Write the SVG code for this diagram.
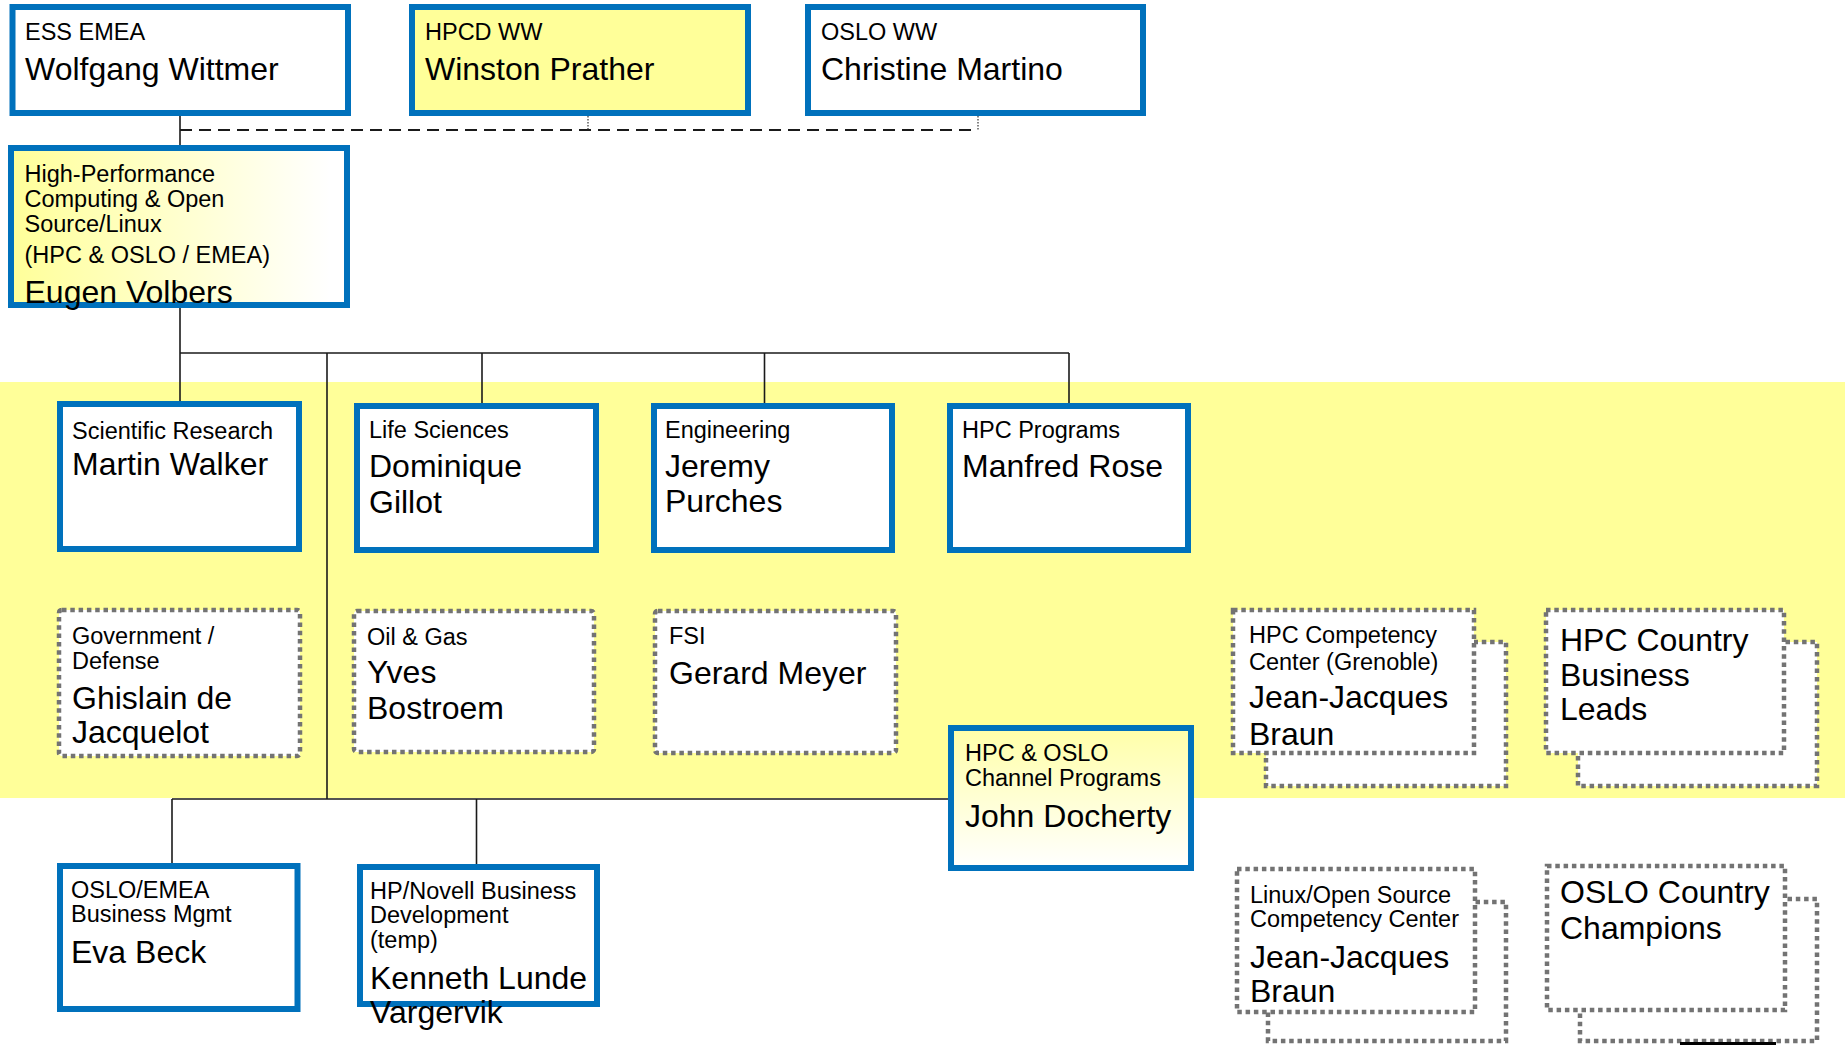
<svg xmlns="http://www.w3.org/2000/svg" width="1845" height="1045" viewBox="0 0 1845 1045">
<defs>
<linearGradient id="gH" x1="0" y1="0" x2="1" y2="0"><stop offset="0" stop-color="#FFFF99"/><stop offset="0.95" stop-color="#FFFFFF"/></linearGradient>
<linearGradient id="gV" x1="0" y1="0" x2="0" y2="1"><stop offset="0" stop-color="#FFFFA8"/><stop offset="1" stop-color="#FFFFFF"/></linearGradient>
<style>
.b{fill:#fff;stroke:#0071BC;stroke-width:6}
.d{fill:#fff;stroke:#737373;stroke-width:4.5;stroke-dasharray:4.5 3.8}
text{font-family:"Liberation Sans",Arial,sans-serif;font-size:23.5px;fill:#000}
.n{font-size:32px}
.c{stroke:#1a1a1a;stroke-width:1.6;fill:none}
.dash{stroke:#1a1a1a;stroke-width:1.8;fill:none;stroke-dasharray:12 7}
.dot{stroke:#333;stroke-width:1.2;fill:none;stroke-dasharray:1.5 1.5}
</style>
</defs>
<rect x="0" y="382" width="1845" height="416" fill="#FFFF99"/>
<g id="connectors">
<line class="c" x1="180" y1="116" x2="180" y2="145"/>
<line class="dash" x1="180" y1="130" x2="978" y2="130"/>
<line class="dot" x1="588" y1="116" x2="588" y2="130"/>
<line class="dot" x1="978" y1="116" x2="978" y2="130"/>
<line class="c" x1="180" y1="308" x2="180" y2="353" stroke-width="2.2"/>
<line class="c" x1="180" y1="353" x2="180" y2="401"/>
<line class="c" x1="180" y1="353" x2="1069" y2="353"/>
<line class="c" x1="482" y1="353" x2="482" y2="403"/>
<line class="c" x1="764.5" y1="353" x2="764.5" y2="403"/>
<line class="c" x1="1069" y1="353" x2="1069" y2="403"/>
<line class="c" x1="327" y1="353" x2="327" y2="799"/>
<line class="c" x1="172" y1="799" x2="948" y2="799"/>
<line class="c" x1="172" y1="799" x2="172" y2="863"/>
<line class="c" x1="476.5" y1="799" x2="476.5" y2="864"/>
</g>
<g id="ess-emea">
<rect class="b" x="12.5" y="7" width="335.5" height="106"/>
<text x="25" y="40">ESS EMEA</text>
<text class="n" x="25" y="80">Wolfgang Wittmer</text>
</g>
<g id="hpcd-ww">
<rect class="b" x="412" y="7" width="336" height="106" style="fill:#FFFF99"/>
<text x="425" y="40">HPCD WW</text>
<text class="n" x="425" y="80">Winston Prather</text>
</g>
<g id="oslo-ww">
<rect class="b" x="808" y="7" width="335" height="106"/>
<text x="821" y="40">OSLO WW</text>
<text class="n" x="821" y="80">Christine Martino</text>
</g>
<g id="hpc-oslo-emea">
<rect class="b" x="11" y="148" width="336" height="157" style="fill:url(#gH)"/>
<text x="24.5" y="182">High-Performance</text>
<text x="24.5" y="207">Computing &amp; Open</text>
<text x="24.5" y="232">Source/Linux</text>
<text x="24.5" y="263">(HPC &amp; OSLO / EMEA)</text>
<text class="n" x="24.5" y="303">Eugen Volbers</text>
</g>
<g id="scientific-research">
<rect class="b" x="60" y="404" width="239" height="145"/>
<text x="72" y="439">Scientific Research</text>
<text class="n" x="72" y="475">Martin Walker</text>
</g>
<g id="life-sciences">
<rect class="b" x="357" y="406" width="239" height="144"/>
<text x="369" y="438">Life Sciences</text>
<text class="n" x="369" y="477">Dominique</text>
<text class="n" x="369" y="513">Gillot</text>
</g>
<g id="engineering">
<rect class="b" x="654" y="406" width="238" height="144"/>
<text x="665" y="438">Engineering</text>
<text class="n" x="665" y="477">Jeremy</text>
<text class="n" x="665" y="512">Purches</text>
</g>
<g id="hpc-programs">
<rect class="b" x="950" y="406" width="238" height="144"/>
<text x="962" y="438">HPC Programs</text>
<text class="n" x="962" y="477">Manfred Rose</text>
</g>
<g id="government-defense">
<rect class="d" x="59" y="610" width="241" height="146" rx="3"/>
<text x="72" y="644">Government /</text>
<text x="72" y="669">Defense</text>
<text class="n" x="72" y="709">Ghislain de</text>
<text class="n" x="72" y="743">Jacquelot</text>
</g>
<g id="oil-gas">
<rect class="d" x="354" y="611" width="240" height="141" rx="3"/>
<text x="367" y="645">Oil &amp; Gas</text>
<text class="n" x="367" y="683">Yves</text>
<text class="n" x="367" y="719">Bostroem</text>
</g>
<g id="fsi">
<rect class="d" x="655" y="611" width="241" height="142" rx="3"/>
<text x="669" y="644">FSI</text>
<text class="n" x="669" y="684">Gerard Meyer</text>
</g>
<g id="hpc-competency-center">
<rect class="d" x="1266" y="642" width="240" height="144"/>
<rect class="d" x="1233" y="610" width="241" height="143"/>
<text x="1249" y="643">HPC Competency</text>
<text x="1249" y="670">Center (Grenoble)</text>
<text class="n" x="1249" y="708">Jean-Jacques</text>
<text class="n" x="1249" y="745">Braun</text>
</g>
<g id="hpc-country-business-leads">
<rect class="d" x="1578" y="642" width="239" height="144"/>
<rect class="d" x="1546" y="610" width="238" height="143"/>
<text class="n" x="1560" y="651">HPC Country</text>
<text class="n" x="1560" y="686">Business</text>
<text class="n" x="1560" y="720">Leads</text>
</g>
<g id="hpc-oslo-channel">
<rect class="b" x="951" y="728" width="240" height="140" style="fill:url(#gV)"/>
<text x="965" y="761">HPC &amp; OSLO</text>
<text x="965" y="786">Channel Programs</text>
<text class="n" x="965" y="827">John Docherty</text>
</g>
<g id="linux-competency-center">
<rect class="d" x="1268" y="902" width="238" height="139"/>
<rect class="d" x="1237" y="869" width="238" height="143"/>
<text x="1250" y="903">Linux/Open Source</text>
<text x="1250" y="927">Competency Center</text>
<text class="n" x="1250" y="968">Jean-Jacques</text>
<text class="n" x="1250" y="1002">Braun</text>
</g>
<g id="oslo-country-champions">
<rect class="d" x="1580" y="899" width="237" height="142"/>
<rect class="d" x="1547" y="866" width="238" height="144"/>
<text class="n" x="1560" y="903">OSLO Country</text>
<text class="n" x="1560" y="939">Champions</text>
</g>
<g id="oslo-emea-business-mgmt">
<rect class="b" x="60" y="866" width="237.5" height="143"/>
<text x="71" y="898">OSLO/EMEA</text>
<text x="71" y="922">Business Mgmt</text>
<text class="n" x="71" y="963">Eva Beck</text>
</g>
<g id="hp-novell-bd">
<rect class="b" x="360" y="867" width="237" height="137"/>
<text x="370" y="899">HP/Novell Business</text>
<text x="370" y="923">Development</text>
<text x="370" y="948">(temp)</text>
<text class="n" x="370" y="989">Kenneth Lunde</text>
<text class="n" x="370" y="1023">Vargervik</text>
</g>
<line x1="1680" y1="1043.5" x2="1776" y2="1043.5" stroke="#000" stroke-width="3"/>
</svg>
